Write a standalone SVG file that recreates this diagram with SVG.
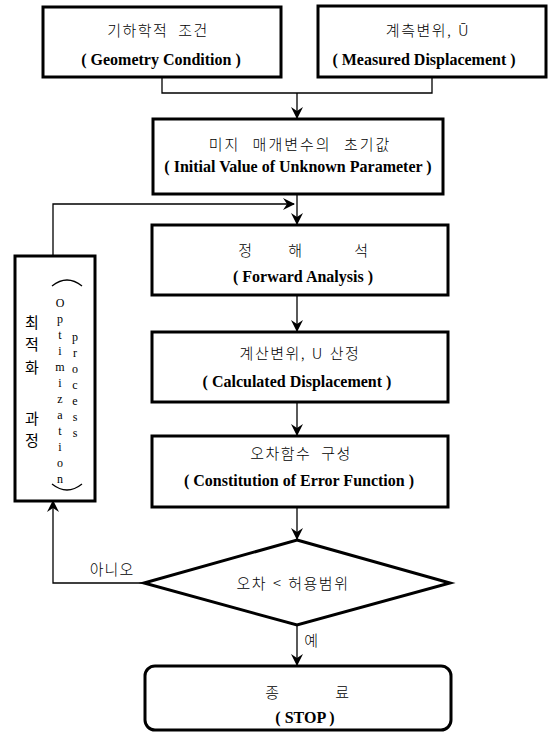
<svg xmlns="http://www.w3.org/2000/svg" width="549" height="732" viewBox="0 0 549 732">
<defs>
<style>
.box{fill:#fff;stroke:#000;stroke-width:3}
.ln{fill:none;stroke:#000;stroke-width:1.3}
.ko{font-family:"Noto Sans CJK KR","Noto Sans",sans-serif;font-size:15px;font-weight:300;fill:#000;text-anchor:middle;letter-spacing:1.5px;word-spacing:1px}
.en{font-family:"Liberation Serif",serif;font-size:16px;font-weight:bold;fill:#000;text-anchor:middle}
.vt{font-family:"Liberation Serif",serif;font-size:12px;fill:#000;text-anchor:middle}
.kv{font-family:"Noto Sans CJK KR","Noto Sans",sans-serif;font-size:15px;font-weight:400;fill:#000;text-anchor:middle}
</style>
<marker id="ah" viewBox="0 0 12 12" refX="11" refY="6" markerWidth="12" markerHeight="12" markerUnits="userSpaceOnUse" orient="auto">
<path d="M0,0 L12,6 L0,12 L4,6 z" fill="#000"/>
</marker>
</defs>
<rect width="549" height="732" fill="#fff"/>

<g id="connectors">
<polyline class="ln" points="162,77 162,93 432,93 432,77"/>
<line class="ln" x1="297" y1="93" x2="297" y2="118" marker-end="url(#ah)"/>
<line class="ln" x1="297" y1="194" x2="297" y2="224" marker-end="url(#ah)"/>
<polyline class="ln" points="53,256 53,204 294,204" marker-end="url(#ah)"/>
<line class="ln" x1="297" y1="295" x2="297" y2="331" marker-end="url(#ah)"/>
<line class="ln" x1="297" y1="402" x2="297" y2="435" marker-end="url(#ah)"/>
<line class="ln" x1="297" y1="507" x2="297" y2="539" marker-end="url(#ah)"/>
<polyline class="ln" points="144,583 53,583 53,501" marker-end="url(#ah)"/>
<line class="ln" x1="297" y1="625" x2="297" y2="665" marker-end="url(#ah)"/>
<text class="ko" x="112" y="575" style="letter-spacing:1px">아니오</text>
<text class="ko" x="312" y="646">예</text>
</g>

<g id="geometry">
<rect class="box" x="43" y="7" width="238" height="70"/>
<text class="ko" x="158" y="36" style="word-spacing:5px">기하학적 조건</text>
<text class="en" x="161" y="65">( Geometry Condition )</text>
</g>

<g id="measured">
<rect class="box" x="318" y="6" width="228" height="71"/>
<text class="ko" x="428" y="36">계측변위, Ū</text>
<text class="en" x="424" y="65">( Measured Displacement )</text>
</g>

<g id="initial">
<rect class="box" x="153" y="119" width="290" height="75"/>
<text class="ko" x="300" y="150" style="word-spacing:7px;letter-spacing:2px">미지 매개변수의 초기값</text>
<text class="en" x="298" y="172">( Initial Value of Unknown Parameter )</text>
</g>

<g id="forward">
<rect class="box" x="152" y="225" width="296" height="70"/>
<text class="ko" x="246" y="256">정</text>
<text class="ko" x="296" y="256">해</text>
<text class="ko" x="362" y="256">석</text>
<text class="en" x="303" y="282">( Forward Analysis )</text>
</g>

<g id="calculated">
<rect class="box" x="152" y="332" width="296" height="70"/>
<text class="ko" x="300" y="359">계산변위, U 산정</text>
<text class="en" x="297" y="387">( Calculated Displacement )</text>
</g>

<g id="error">
<rect class="box" x="152" y="436" width="296" height="71"/>
<text class="ko" x="301" y="459" style="word-spacing:5px">오차함수 구성</text>
<text class="en" x="299" y="486">( Constitution of Error Function )</text>
</g>

<g id="decision">
<polygon class="box" points="297,540 450,583 297,625 144,583"/>
<text class="ko" x="293" y="589">오차 &lt; 허용범위</text>
</g>

<g id="stop">
<rect class="box" x="145" y="666" width="306" height="64" rx="10" ry="10"/>
<text class="ko" x="273" y="698">종</text>
<text class="ko" x="343" y="698">료</text>
<text class="en" x="305" y="723">( STOP )</text>
</g>

<g id="optimization">
<rect class="box" x="15" y="256" width="80" height="245"/>
<path class="ln" d="M52,286 Q67,274 82,286" stroke-width="1.8"/>
<path class="ln" d="M52,484 Q67,496 82,484" stroke-width="1.8"/>
<text class="kv" x="32" y="328">최</text>
<text class="kv" x="32" y="350">적</text>
<text class="kv" x="32" y="373">화</text>
<text class="kv" x="32" y="424">과</text>
<text class="kv" x="32" y="446">정</text>
<text class="vt" x="60" y="307">O</text>
<text class="vt" x="60" y="323">p</text>
<text class="vt" x="60" y="339">t</text>
<text class="vt" x="60" y="355">i</text>
<text class="vt" x="60" y="371">m</text>
<text class="vt" x="60" y="387">i</text>
<text class="vt" x="60" y="403">z</text>
<text class="vt" x="60" y="419">a</text>
<text class="vt" x="60" y="435">t</text>
<text class="vt" x="60" y="451">i</text>
<text class="vt" x="60" y="467">o</text>
<text class="vt" x="60" y="483">n</text>
<text class="vt" x="75" y="341">p</text>
<text class="vt" x="75" y="357">r</text>
<text class="vt" x="75" y="373">o</text>
<text class="vt" x="75" y="389">c</text>
<text class="vt" x="75" y="405">e</text>
<text class="vt" x="75" y="421">s</text>
<text class="vt" x="75" y="437">s</text>
</g>
</svg>
